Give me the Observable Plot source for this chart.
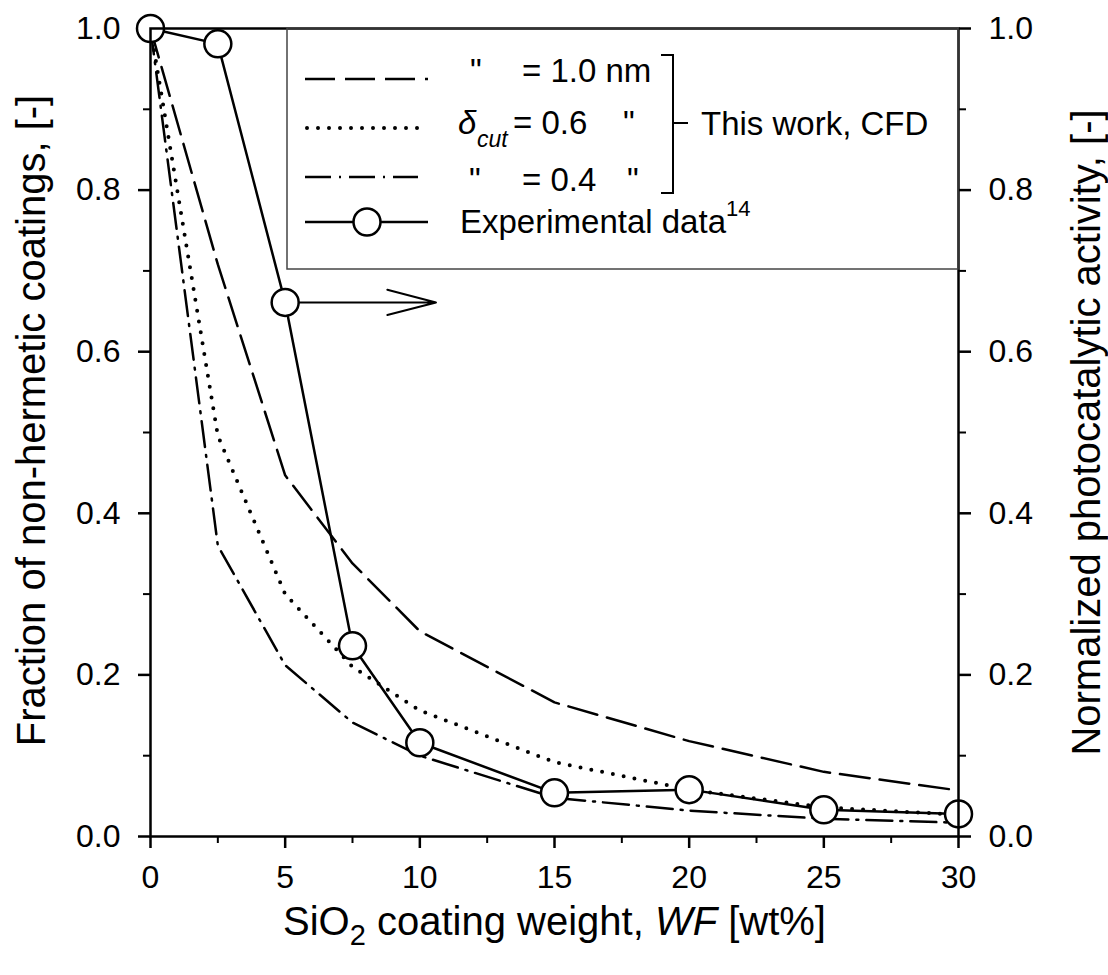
<!DOCTYPE html>
<html><head><meta charset="utf-8">
<script src="https://cdn.jsdelivr.net/npm/d3@7"></script>
<script src="https://cdn.jsdelivr.net/npm/@observablehq/plot@0.6"></script>
<style>body{margin:0;background:#fff} #chart{width:1108px;height:975px}</style>
</head><body><div id="chart"></div>
<script>
// SiO2 coating weight WF [wt%]
const wf = [0, 2.5, 5, 7.5, 10, 15, 20, 25, 30];
// CFD, delta_cut = 1.0 nm (dashed)
const cfd10 = [1.0, 0.708, 0.447, 0.338, 0.254, 0.166, 0.118, 0.080, 0.057];
// CFD, delta_cut = 0.6 nm (dotted)
const cfd06 = [1.0, 0.496, 0.300, 0.210, 0.156, 0.092, 0.058, 0.036, 0.027];
// CFD, delta_cut = 0.4 nm (dash-dot)
const cfd04 = [1.0, 0.360, 0.212, 0.141, 0.100, 0.048, 0.032, 0.022, 0.017];
// Experimental normalized photocatalytic activity
const expActivity = [1.0, 0.981, 0.661, 0.236, 0.116, 0.054, 0.058, 0.033, 0.028];

const xMajor = [0, 5, 10, 15, 20, 25, 30];
const xMinor = [2.5, 7.5, 12.5, 17.5, 22.5, 27.5];
const yMajor = [0, 0.2, 0.4, 0.6, 0.8, 1.0];
const yMinor = [0.1, 0.3, 0.5, 0.7, 0.9];

const leftTitle = "Fraction of non-hermetic coatings, [-]";
const rightTitle = "Normalized photocatalytic activity, [-]";
const xTitle = "SiO2 coating weight, WF [wt%]";

const FONT = "Liberation Sans, Arial, sans-serif";
const rows = ys => wf.map((x, i) => ({x, y: ys[i]}));
const fmt = d => d.toFixed(1);
const blank = () => "";

const plot = Plot.plot({
  width: 1108, height: 975,
  marginLeft: 150, marginRight: 150, marginTop: 28, marginBottom: 139,
  x: {domain: [0, 30], label: null},
  y: {domain: [0, 1], label: null},
  style: {fontFamily: FONT, background: "#fff", color: "#000", overflow: "visible"},
  marks: [
    Plot.axisY(yMajor, {anchor: "left", tickSize: 12, tickPadding: 18, tickFormat: fmt, fontSize: 32, fontFamily: FONT, strokeWidth: 2.5, label: null}),
    Plot.axisY(yMinor, {anchor: "left", tickSize: 7, tickFormat: blank, strokeWidth: 2, label: null}),
    Plot.axisY(yMajor, {anchor: "right", tickSize: 12, tickPadding: 18, tickFormat: fmt, fontSize: 32, fontFamily: FONT, strokeWidth: 2.5, label: null}),
    Plot.axisY(yMinor, {anchor: "right", tickSize: 7, tickFormat: blank, strokeWidth: 2, label: null}),
    Plot.axisX(xMajor, {anchor: "bottom", tickSize: 12, tickPadding: 17, tickFormat: d => String(d), fontSize: 32, fontFamily: FONT, strokeWidth: 2.5, label: null}),
    Plot.axisX(xMinor, {anchor: "bottom", tickSize: 7, tickFormat: blank, strokeWidth: 2, label: null}),
    Plot.line(rows(cfd10), {x: "x", y: "y", stroke: "#000", strokeWidth: 2.5, strokeDasharray: "30,10"}),
    Plot.line(rows(cfd06), {x: "x", y: "y", stroke: "#000", strokeWidth: 4, strokeDasharray: "0,11", strokeLinecap: "round"}),
    Plot.line(rows(cfd04), {x: "x", y: "y", stroke: "#000", strokeWidth: 2.5, strokeDasharray: "26,8,2,8"}),
    Plot.line(rows(expActivity), {x: "x", y: "y", stroke: "#000", strokeWidth: 2.5}),
    Plot.arrow([{x1: wf[2], y1: expActivity[2], x2: wf[2] + 5.6}], {x1: "x1", y1: "y1", x2: "x2", y2: "y1", stroke: "#000", strokeWidth: 2, headAngle: 29, headLength: 40}),
    Plot.dot(rows(expActivity), {x: "x", y: "y", r: 13.5, fill: "#fff", stroke: "#000", strokeWidth: 2.5}),
    Plot.frame({stroke: "#000", strokeWidth: 2.5}),
    Plot.text([leftTitle], {frameAnchor: "left", rotate: -90, dx: -118, dy: -12, fontSize: 40, fontFamily: FONT, textAnchor: "middle", lineAnchor: "middle", fill: "#000"}),
    Plot.text([rightTitle], {frameAnchor: "right", rotate: -90, dx: 129, dy: 0, fontSize: 40, fontFamily: FONT, textAnchor: "middle", lineAnchor: "middle", fill: "#000"}),
    Plot.text([xTitle], {frameAnchor: "bottom", dy: 86, fontSize: 40, fontFamily: FONT, textAnchor: "middle", lineAnchor: "middle", fill: "#000"})
  ]
});
document.getElementById("chart").append(plot);

const svg = d3.select(plot);
// rich text for the x title
svg.selectAll("text").filter(function() { return this.textContent === xTitle; }).each(function() {
  const t = d3.select(this); t.text("");
  t.append("tspan").text("SiO");
  t.append("tspan").attr("font-size", 29).attr("dy", 10).text("2");
  t.append("tspan").attr("dy", -10).text(" coating weight, ");
  t.append("tspan").attr("font-style", "italic").text("WF");
  t.append("tspan").text(" [wt%]");
});

// legend
const lg = svg.append("g").attr("font-family", FONT).attr("fill", "#000").attr("text-anchor", "start");
lg.append("rect").attr("x", 287).attr("y", 28).attr("width", 671).attr("height", 241)
  .attr("fill", "none").attr("stroke", "#444").attr("stroke-width", 1.5);
const ln = (x1, x2, y, attrs) => {
  const l = lg.append("line").attr("x1", x1).attr("x2", x2).attr("y1", y).attr("y2", y).attr("stroke", "#000");
  Object.entries(attrs).forEach(([k, v]) => l.attr(k, v));
};
ln(305, 428, 79, {"stroke-width": 2.5, "stroke-dasharray": "30,10"});
ln(307, 419, 128, {"stroke-width": 4, "stroke-dasharray": "0,11", "stroke-linecap": "round"});
ln(305, 418, 177, {"stroke-width": 2.5, "stroke-dasharray": "26,8,2,8"});
ln(305, 428, 222, {"stroke-width": 2.5});
lg.append("circle").attr("cx", 367).attr("cy", 222).attr("r", 13.5).attr("fill", "#fff").attr("stroke", "#000").attr("stroke-width", 2.5);
const tx = (x, y, s, size = 33, style = "normal") =>
  lg.append("text").attr("x", x).attr("y", y).attr("font-size", size).attr("font-style", style).attr("text-anchor", "start").text(s);
tx(470, 82, "\"");
tx(522, 82, "= 1.0 nm");
tx(458, 134, "\u03B4", 33, "italic");
tx(477, 147, "cut", 23, "italic");
tx(513, 134, "= 0.6");
tx(623, 134, "\"");
tx(469, 191, "\"");
tx(522, 191, "= 0.4");
tx(627, 191, "\"");
tx(460, 233, "Experimental data");
tx(726, 216, "14", 22);
lg.append("path").attr("d", "M661,55H673V193H661M673,123H688").attr("fill", "none").attr("stroke", "#000").attr("stroke-width", 2);
tx(701, 135, "This work, CFD");
</script></body></html>
